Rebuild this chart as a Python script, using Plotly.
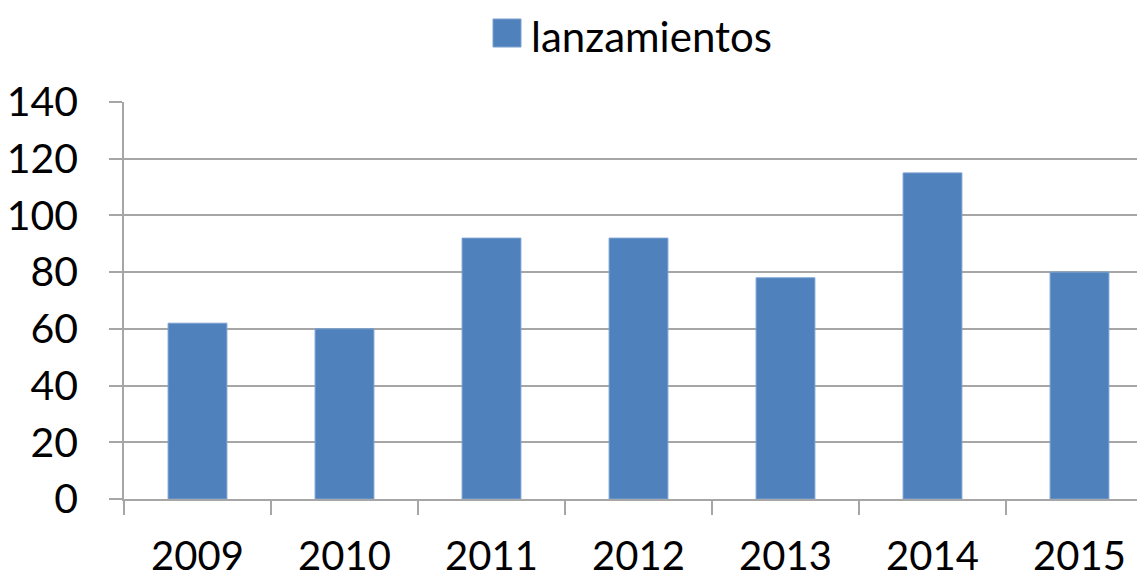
import plotly.graph_objects as go

years = ["2009", "2010", "2011", "2012", "2013", "2014", "2015"]
lanzamientos = [62, 60, 92, 92, 78, 115, 80]
series_name = "lanzamientos"
y_ticks = [0, 20, 40, 60, 80, 100, 120, 140]

BAR_COLOR = "#4f81bd"
GRID = "#a6a6a6"
FONT = "Lato, Carlito, Calibri, sans-serif"

L, T, W, H = 116, 94, 1029, 397

fig = go.Figure()
fig.add_trace(go.Bar(
    x=years, y=lanzamientos, name=series_name,
    marker=dict(color=BAR_COLOR, line=dict(color="#7aa0cf", width=1)),
    width=0.4, showlegend=False,
))

fig.update_layout(
    width=1145, height=580,
    margin=dict(l=L, r=0, t=T, b=580 - T - H),
    plot_bgcolor="white", paper_bgcolor="white",
    font=dict(family=FONT, size=41, color="black"),
)
fig.update_xaxes(
    type="category", range=[-0.5, 6.5],
    showline=True, linecolor=GRID, linewidth=1.5,
    ticks="outside", tickson="boundaries", ticklen=14, tickcolor=GRID, tickwidth=1.5,
    ticklabelstandoff=21, showgrid=False,
    tickfont=dict(size=40),
)
fig.update_yaxes(
    range=[0, 140], tickvals=y_ticks,
    showline=True, linecolor=GRID, linewidth=1.5,
    ticks="outside", ticklen=13, tickcolor=GRID, tickwidth=1.5,
    ticklabelstandoff=23,
    showgrid=True, gridcolor=GRID, gridwidth=1.5, zeroline=False,
    tickfont=dict(size=41),
)

# Legend (drawn manually to match the large swatch)
fig.add_shape(type="rect", xref="paper", yref="paper",
              x0=(485 - L) / W, x1=(513 - L) / W,
              y0=1 + (T - 39) / H, y1=1 + (T - 11) / H,
              fillcolor=BAR_COLOR, line=dict(color="#7aa0cf", width=1))
fig.add_annotation(text=series_name, xref="paper", yref="paper",
                   x=(522 - L) / W, y=1 + (T - 28) / H,
                   xanchor="left", yanchor="middle", showarrow=False,
                   borderpad=0,
                   font=dict(size=42, family=FONT, color="black"))

fig.write_html("out.html")
